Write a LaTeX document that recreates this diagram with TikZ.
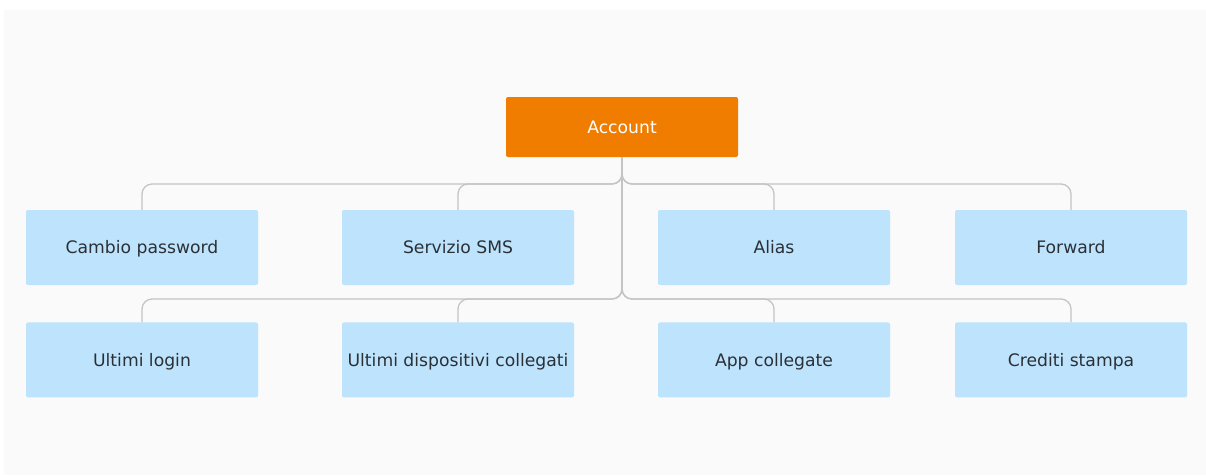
\documentclass[tikz,border=0pt]{standalone}
\usepackage{fontspec}
\setmainfont{DejaVu Sans}
\usetikzlibrary{positioning, calc}

\definecolor{panelgray}{HTML}{FAFAFA}
\definecolor{accorange}{HTML}{F07C00}
\definecolor{itemblue}{HTML}{BEE3FD}
\definecolor{itemtext}{HTML}{2B3035}
\definecolor{linkgray}{HTML}{C4C4C4}

\tikzset{
    root/.style={fill=accorange, text=white, rounded corners=2pt, minimum width=232pt, minimum height=60pt, text height=12.5pt, text depth=0pt, font=\fontsize{17.2}{20}\selectfont},
    item/.style={fill=itemblue, text=itemtext, rounded corners=2pt, minimum width=232pt, minimum height=75pt, text height=12.5pt, text depth=0pt, font=\fontsize{17.2}{20}\selectfont},
    link/.style={draw=linkgray, line width=1.3pt, rounded corners=10pt}
}

\begin{document}
\begin{tikzpicture}[x=1pt, y=-1pt, node distance=37pt]
    \useasboundingbox (0,0) rectangle (1206,475);
    \fill[panelgray] (4,10) rectangle (1206,475);

    \node[root] (acc) at (622,127) {Account};

    \node[item] (c1) at (142,247.5) {Cambio password};
    \node[item] (c2) at (458,247.5) {Servizio SMS};
    \node[item] (c3) at (774,247.5) {Alias};
    \node[item] (c4) at (1071,247.5) {Forward};

    \node[item, below=of c1] (d1) {Ultimi login};
    \node[item, below=of c2] (d2) {Ultimi dispositivi collegati};
    \node[item, below=of c3] (d3) {App collegate};
    \node[item, below=of c4] (d4) {Crediti stampa};

    \coordinate (bus1) at (622,184);
    \coordinate (bus2) at (622,299);

    \foreach \n in {1,2,3,4} {
        \draw[link] (acc.south) -- (bus1) -| (c\n.north);
        \draw[link] (acc.south) -- (bus2) -| (d\n.north);
    };
\end{tikzpicture}
\end{document}
